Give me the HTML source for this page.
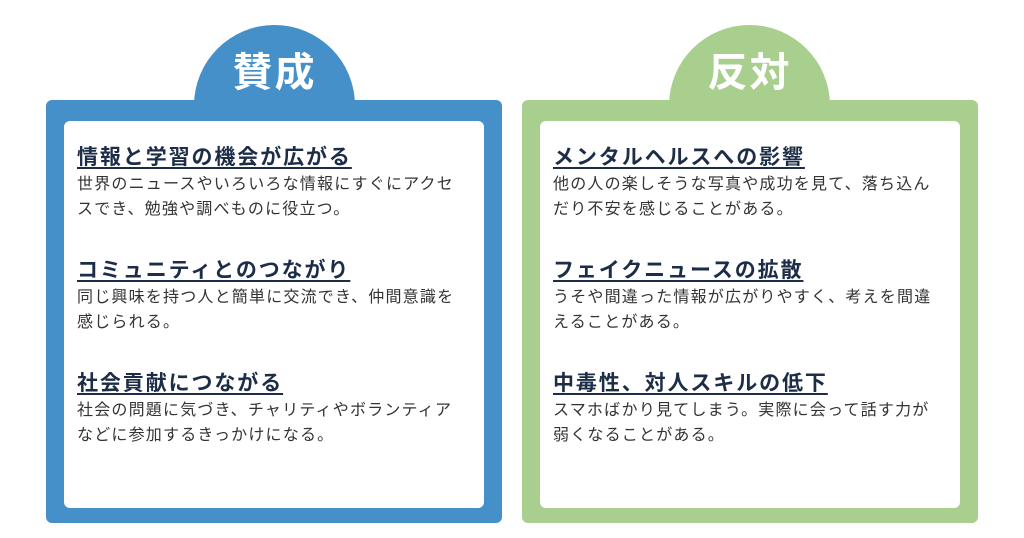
<!DOCTYPE html>
<html><head><meta charset="utf-8"><style>
body{margin:0;width:1024px;height:538px;background:#fff;position:relative;font-family:"Liberation Sans","Noto Sans CJK JP",sans-serif;overflow:hidden}
.tab{position:absolute;top:25px;width:161px;height:90px;border-radius:81px 81px 0 0;color:#fff;font-size:40px;font-weight:bold;text-align:center;line-height:96px;letter-spacing:2px}
.panel{position:absolute;top:100px;width:456px;height:423px;border-radius:6px}
.inner{position:absolute;left:18px;top:21px;width:420px;height:387px;background:#fff;border-radius:6px}
.sec{position:absolute;left:13px}
h3{margin:0;font-size:21px;letter-spacing:1.9px;font-weight:bold;color:#1d2d48;text-decoration:underline;text-underline-offset:3px;line-height:28px}
p{margin:0;font-size:16px;letter-spacing:1.2px;color:#333;line-height:25px;width:392px}
.blue{background:#4590c9}.green{background:#a9cf8f}
</style></head><body>
<div class="tab blue" style="left:194px">賛成</div>
<div class="tab green" style="left:669px">反対</div>
<div class="panel blue" style="left:46px"><div class="inner">
<div class="sec" style="top:23px"><h3>情報と学習の機会が広がる</h3><p>世界のニュースやいろいろな情報にすぐにアクセスでき、勉強や調べものに役立つ。</p></div>
<div class="sec" style="top:136px"><h3>コミュニティとのつながり</h3><p>同じ興味を持つ人と簡単に交流でき、仲間意識を感じられる。</p></div>
<div class="sec" style="top:249px"><h3>社会貢献につながる</h3><p>社会の問題に気づき、チャリティやボランティアなどに参加するきっかけになる。</p></div>
</div></div>
<div class="panel green" style="left:522px"><div class="inner">
<div class="sec" style="top:23px"><h3>メンタルヘルスへの影響</h3><p>他の人の楽しそうな写真や成功を見て、落ち込んだり不安を感じることがある。</p></div>
<div class="sec" style="top:136px"><h3>フェイクニュースの拡散</h3><p>うそや間違った情報が広がりやすく、考えを間違えることがある。</p></div>
<div class="sec" style="top:249px"><h3>中毒性、対人スキルの低下</h3><p>スマホばかり見てしまう。実際に会って話す力が弱くなることがある。</p></div>
</div></div>
</body></html>
